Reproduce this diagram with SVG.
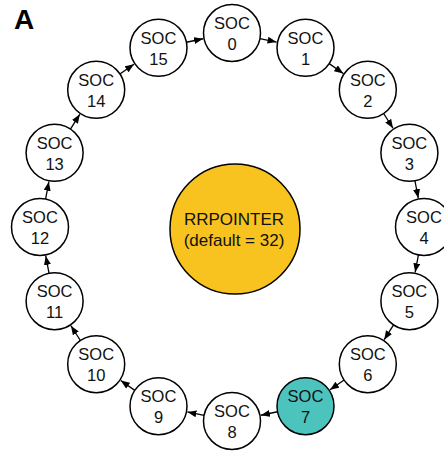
<svg xmlns="http://www.w3.org/2000/svg" width="444" height="451" viewBox="0 0 444 451">
<style>
.n circle{fill:#fff;stroke:#000;stroke-width:1.5}
.n text,.c text{font-family:"Liberation Sans",Arial,sans-serif;font-size:16.5px;fill:#111;text-anchor:middle}
.c text{font-size:17px}
#connectors line{stroke:#000;stroke-width:1.3;marker-end:url(#ah)}
</style>
<defs>
<marker id="ah" markerUnits="userSpaceOnUse" markerWidth="10" markerHeight="8" refX="9" refY="3.5" orient="auto">
<path d="M0,0 L9,3.5 L0,7 z" fill="#000"/>
</marker>
</defs>
<rect width="444" height="451" fill="#fff"/>
<text x="14" y="29" font-family="Liberation Sans,Arial,sans-serif" font-weight="bold" font-size="28" fill="#000">A</text>
<g id="center" class="c">
<circle cx="235" cy="229" r="65" fill="#F8C31E" stroke="#000" stroke-width="1.5"/>
<text x="234" y="225">RRPOINTER</text>
<text x="234" y="246">(default = 32)</text>
</g>
<g id="connectors">
<line x1="259.95" y1="38.56" x2="276.57" y2="42.04"/>
<line x1="329.2" y1="63.63" x2="343.27" y2="73.41"/>
<line x1="383.63" y1="113.5" x2="393.01" y2="128.27"/>
<line x1="414.96" y1="180.75" x2="418.24" y2="198.07"/>
<line x1="418.44" y1="254.95" x2="415.16" y2="272.27"/>
<line x1="393.57" y1="324.9" x2="384.19" y2="339.67"/>
<line x1="344.1" y1="380.03" x2="330.03" y2="389.81"/>
<line x1="277.55" y1="411.76" x2="260.93" y2="415.24"/>
<line x1="204.05" y1="415.44" x2="187.43" y2="411.96"/>
<line x1="134.8" y1="390.37" x2="120.73" y2="380.59"/>
<line x1="80.37" y1="340.5" x2="70.99" y2="325.73"/>
<line x1="49.04" y1="273.25" x2="45.76" y2="255.93"/>
<line x1="45.56" y1="199.05" x2="48.84" y2="181.73"/>
<line x1="70.43" y1="129.1" x2="79.81" y2="114.33"/>
<line x1="119.9" y1="73.97" x2="133.97" y2="64.19"/>
<line x1="186.45" y1="42.24" x2="203.07" y2="38.76"/>
</g>
<g id="soc0" class="n"><circle cx="232" cy="33" r="28.5"/><text x="232" y="29">SOC</text><text x="232" y="50">0</text></g>
<g id="soc1" class="n"><circle cx="305.5" cy="47.8" r="28.5"/><text x="305.5" y="43.8">SOC</text><text x="305.5" y="64.8">1</text></g>
<g id="soc2" class="n"><circle cx="367.8" cy="89.8" r="28.5"/><text x="367.8" y="85.8">SOC</text><text x="367.8" y="106.8">2</text></g>
<g id="soc3" class="n"><circle cx="409.4" cy="152.8" r="28.5"/><text x="409.4" y="148.8">SOC</text><text x="409.4" y="169.8">3</text></g>
<g id="soc4" class="n"><circle cx="424" cy="227" r="28.5"/><text x="424" y="223">SOC</text><text x="424" y="244">4</text></g>
<g id="soc5" class="n"><circle cx="409.4" cy="301.2" r="28.5"/><text x="409.4" y="297.2">SOC</text><text x="409.4" y="318.2">5</text></g>
<g id="soc6" class="n"><circle cx="367.8" cy="364.2" r="28.5"/><text x="367.8" y="360.2">SOC</text><text x="367.8" y="381.2">6</text></g>
<g id="soc7" class="n"><circle cx="305.5" cy="406.2" r="28.5" style="fill:#4DC3BE"/><text x="305.5" y="402.2">SOC</text><text x="305.5" y="423.2">7</text></g>
<g id="soc8" class="n"><circle cx="232" cy="421" r="28.5"/><text x="232" y="417">SOC</text><text x="232" y="438">8</text></g>
<g id="soc9" class="n"><circle cx="158.5" cy="406.2" r="28.5"/><text x="158.5" y="402.2">SOC</text><text x="158.5" y="423.2">9</text></g>
<g id="soc10" class="n"><circle cx="96.2" cy="364.2" r="28.5"/><text x="96.2" y="360.2">SOC</text><text x="96.2" y="381.2">10</text></g>
<g id="soc11" class="n"><circle cx="54.6" cy="301.2" r="28.5"/><text x="54.6" y="297.2">SOC</text><text x="54.6" y="318.2">11</text></g>
<g id="soc12" class="n"><circle cx="40" cy="227" r="28.5"/><text x="40" y="223">SOC</text><text x="40" y="244">12</text></g>
<g id="soc13" class="n"><circle cx="54.6" cy="152.8" r="28.5"/><text x="54.6" y="148.8">SOC</text><text x="54.6" y="169.8">13</text></g>
<g id="soc14" class="n"><circle cx="96.2" cy="89.8" r="28.5"/><text x="96.2" y="85.8">SOC</text><text x="96.2" y="106.8">14</text></g>
<g id="soc15" class="n"><circle cx="158.5" cy="47.8" r="28.5"/><text x="158.5" y="43.8">SOC</text><text x="158.5" y="64.8">15</text></g>
</svg>
